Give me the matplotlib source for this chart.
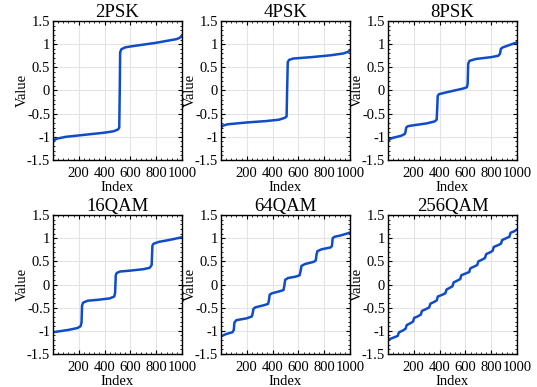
import matplotlib
matplotlib.use("Agg")
import matplotlib.pyplot as plt
from matplotlib.ticker import AutoMinorLocator

plt.rcParams['font.family'] = ['Liberation Serif', 'DejaVu Serif']
plt.rcParams['axes.unicode_minus'] = False

titles = ["2PSK", "4PSK", "8PSK", "16QAM", "64QAM", "256QAM"]

psk2_idx = [1, 10, 30, 100, 200, 300, 400, 470, 505, 514, 518, 521, 530, 560, 600, 700, 800, 900, 960, 990, 1000]
psk2_val = [-1.12, -1.07, -1.04, -1.00, -0.97, -0.94, -0.91, -0.88, -0.84, -0.80, 0.0, 0.82, 0.89, 0.93, 0.95, 0.99, 1.03, 1.08, 1.11, 1.15, 1.19]

psk4_idx = [1, 15, 50, 200, 350, 450, 495, 509, 513, 518, 528, 560, 700, 850, 950, 990, 1000]
psk4_val = [-0.80, -0.76, -0.73, -0.69, -0.66, -0.63, -0.59, -0.56, 0.0, 0.61, 0.66, 0.69, 0.72, 0.76, 0.80, 0.84, 0.87]

psk8_idx = [1, 15, 40, 100, 130, 136, 142, 155, 200, 300, 360, 378, 382, 386, 395, 430, 500, 580, 612, 618, 622, 632, 680, 800, 855, 868, 875, 890, 930, 1000]
psk8_val = [-1.10, -1.05, -1.02, -0.98, -0.94, -0.90, -0.80, -0.77, -0.75, -0.71, -0.67, -0.63, -0.40, -0.12, -0.08, -0.055, -0.01, 0.04, 0.07, 0.15, 0.58, 0.64, 0.68, 0.72, 0.75, 0.79, 0.90, 0.93, 0.97, 1.04]

qam16_idx = [1, 50, 120, 190, 215, 222, 226, 235, 270, 350, 440, 475, 482, 487, 495, 520, 600, 700, 750, 765, 771, 780, 820, 900, 1000]
qam16_val = [-1.03, -1.01, -0.98, -0.94, -0.90, -0.82, -0.45, -0.39, -0.35, -0.33, -0.30, -0.26, -0.18, 0.20, 0.25, 0.28, 0.30, 0.33, 0.36, 0.42, 0.84, 0.88, 0.92, 0.96, 1.02]

qam64_idx = [1, 40, 90, 100, 105, 120, 200, 240, 248, 253, 270, 330, 365, 372, 378, 395, 450, 485, 492, 498, 520, 580, 610, 618, 624, 650, 720, 735, 741, 748, 780, 850, 860, 866, 880, 930, 1000]
qam64_val = [-1.12, -1.07, -1.03, -0.98, -0.82, -0.77, -0.73, -0.69, -0.60, -0.52, -0.49, -0.45, -0.42, -0.35, -0.22, -0.19, -0.15, -0.12, -0.02, 0.10, 0.14, 0.17, 0.20, 0.30, 0.40, 0.44, 0.49, 0.52, 0.65, 0.72, 0.76, 0.80, 0.83, 1.00, 1.03, 1.06, 1.12]

qam256_idx = [1, 40, 76, 86, 112, 137, 146, 172, 195, 204, 230, 255, 264, 292, 320, 329, 355, 378, 387, 418, 445, 454, 477, 500, 509, 535, 560, 569, 600, 630, 639, 666, 692, 701, 728, 752, 761, 788, 811, 820, 850, 876, 885, 913, 941, 950, 980, 1000]
qam256_val = [-1.19, -1.15, -1.11, -1.03, -1.00, -0.955, -0.875, -0.84, -0.80, -0.72, -0.69, -0.65, -0.57, -0.535, -0.495, -0.415, -0.38, -0.345, -0.26, -0.225, -0.19, -0.11, -0.075, -0.04, 0.045, 0.08, 0.115, 0.20, 0.235, 0.27, 0.35, 0.385, 0.42, 0.50, 0.535, 0.57, 0.655, 0.69, 0.725, 0.81, 0.845, 0.88, 0.96, 0.995, 1.03, 1.115, 1.15, 1.19]

series = [(psk2_idx, psk2_val), (psk4_idx, psk4_val), (psk8_idx, psk8_val),
          (qam16_idx, qam16_val), (qam64_idx, qam64_val), (qam256_idx, qam256_val)]

x_ticks = [200, 400, 600, 800, 1000]
y_ticks = [-1.5, -1, -0.5, 0, 0.5, 1, 1.5]
y_tick_labels = ["-1.5", "-1", "-0.5", "0", "0.5", "1", "1.5"]

W, H = 537, 387
fig = plt.figure(figsize=(W / 100, H / 100), dpi=100)
lefts = [53, 221, 388]
tops = [21, 215]
aw, ah = 129, 139
line_color = "#104cc8"

for i, (title, (xi, yv)) in enumerate(zip(titles, series)):
    r, c = divmod(i, 3)
    ax = fig.add_axes([lefts[c] / W, 1 - (tops[r] + ah) / H, aw / W, ah / H])
    ax.plot(xi, yv, color=line_color, lw=1.8, solid_joinstyle='round')
    ax.set_xlim(1, 1000)
    ax.set_ylim(-1.5, 1.5)
    ax.set_xticks(x_ticks)
    ax.set_yticks(y_ticks)
    ax.set_yticklabels(y_tick_labels)
    ax.xaxis.set_minor_locator(AutoMinorLocator(5))
    ax.yaxis.set_minor_locator(AutoMinorLocator(5))
    ax.tick_params(which='both', direction='in', top=True, right=True, labelsize=10.5)
    ax.tick_params(axis='x', pad=5)
    ax.tick_params(axis='y', pad=2)
    ax.tick_params(which='major', length=3, width=0.8)
    ax.tick_params(which='minor', length=1.5, width=0.6)
    ax.grid(True, which='major', color='#e4e4e4', lw=0.8)
    ax.set_axisbelow(True)
    for s in ax.spines.values():
        s.set_linewidth(1.0)
    ax.set_title(title, fontsize=13.5, pad=2)
    ax.set_xlabel("Index", fontsize=10.5, labelpad=1)
    ax.set_ylabel("Value", fontsize=10.5, labelpad=-1.5)

fig.savefig("out.png", dpi=100)
